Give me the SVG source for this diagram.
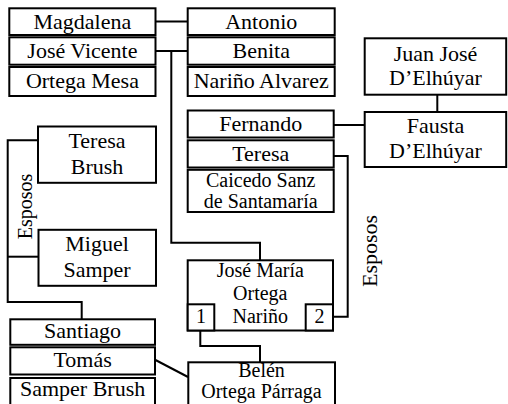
<svg xmlns="http://www.w3.org/2000/svg" width="508" height="404" viewBox="0 0 508 404">
<style>
.b{fill:#fff;stroke:#000;stroke-width:2}
.c{fill:none;stroke:#000;stroke-width:2}
text{font-family:'Liberation Serif','Times New Roman',serif;fill:#000;text-anchor:middle}
.t{font-size:22px}
.s{font-size:20px}
</style>
<rect width="508" height="404" fill="#fff"/>
<g id="connectors">
<path class="c" d="M155.5 21.5H188"/>
<path class="c" d="M155.5 51H188"/>
<path class="c" d="M171.3 51V242.7H260V260"/>
<path class="c" d="M334 125H365"/>
<path class="c" d="M437.3 94.7V112"/>
<path class="c" d="M334 156H347.7V316.7H333"/>
<path class="c" d="M200.3 330.5V346H260V362"/>
<path class="c" d="M155.5 360L188 377"/>
<path class="c" d="M38 140.3H7.7V302H81.7V319.5"/>
<path class="c" d="M7.7 256.7H38"/>
</g>
<g id="labels">
<text class="s" transform="translate(31.5,206.5) rotate(-90)">Esposos</text>
<text class="t" transform="translate(376.5,251) rotate(-90)">Esposos</text>
</g>
<g id="jose-vicente">
<rect class="b" x="9.3" y="8.3" width="146.2" height="26.7"/>
<rect class="b" x="9.3" y="37.3" width="146.2" height="27.4"/>
<rect class="b" x="9.3" y="67" width="146.2" height="29"/>
<text class="t" x="82.4" y="28.5">Magdalena</text>
<text class="t" x="82.4" y="57.5">José Vicente</text>
<text class="t" x="82.4" y="88">Ortega Mesa</text>
</g>
<g id="benita">
<rect class="b" x="187.7" y="8.3" width="147" height="26.7"/>
<rect class="b" x="187.7" y="37.3" width="147" height="27.4"/>
<rect class="b" x="187.7" y="67" width="147" height="29"/>
<text class="t" x="261.2" y="28.5">Antonio</text>
<text class="t" x="261.2" y="57.5">Benita</text>
<text class="t" x="261.2" y="88">Nariño Alvarez</text>
</g>
<g id="juan-jose">
<rect class="b" x="364.7" y="38.3" width="141.5" height="56.4"/>
<text class="t" x="435.5" y="60.5">Juan José</text>
<text class="t" x="435.5" y="85">D’Elhúyar</text>
</g>
<g id="fausta">
<rect class="b" x="364.7" y="112" width="141.5" height="55"/>
<text class="t" x="435.5" y="133">Fausta</text>
<text class="t" x="435.5" y="158">D’Elhúyar</text>
</g>
<g id="teresa">
<rect class="b" x="187.7" y="110.5" width="146" height="27"/>
<rect class="b" x="187.7" y="140.3" width="146" height="27.2"/>
<rect class="b" x="187.7" y="169.8" width="146" height="42.2"/>
<text class="t" x="260.7" y="130.5">Fernando</text>
<text class="t" x="260.7" y="160.5">Teresa</text>
<text class="s" x="260.7" y="186.5">Caicedo Sanz</text>
<text class="s" x="260.7" y="208.3">de Santamaría</text>
</g>
<g id="teresa-brush">
<rect class="b" x="38" y="126.5" width="118" height="56.3"/>
<text class="t" x="97" y="148.3">Teresa</text>
<text class="t" x="97" y="174">Brush</text>
</g>
<g id="miguel-samper">
<rect class="b" x="38.5" y="229.8" width="117.5" height="56"/>
<text class="t" x="97" y="251">Miguel</text>
<text class="t" x="97" y="277">Samper</text>
</g>
<g id="jose-maria">
<rect class="b" x="187.7" y="260.3" width="145.3" height="70.2"/>
<rect class="b" x="187.7" y="304.3" width="26.6" height="26.2"/>
<rect class="b" x="305.7" y="304.3" width="27.3" height="26.2"/>
<text class="s" x="260.3" y="277">José María</text>
<text class="s" x="260.3" y="300">Ortega</text>
<text class="s" x="260.3" y="322.5">Nariño</text>
<text class="s" x="201" y="322.5">1</text>
<text class="s" x="319.4" y="322.5">2</text>
</g>
<g id="belen">
<rect class="b" x="188.3" y="362.3" width="146.7" height="45"/>
<text class="s" x="261.5" y="377">Belén</text>
<text class="s" x="261.5" y="397.5">Ortega Párraga</text>
</g>
<g id="tomas">
<rect class="b" x="10.3" y="319.3" width="144.7" height="25.5"/>
<rect class="b" x="10.3" y="347.3" width="144.7" height="27.2"/>
<rect class="b" x="10.3" y="378" width="144.7" height="30"/>
<text class="t" x="82.6" y="338.4">Santiago</text>
<text class="t" x="82.6" y="367.4">Tomás</text>
<text class="t" x="82.6" y="396">Samper Brush</text>
</g>
</svg>
